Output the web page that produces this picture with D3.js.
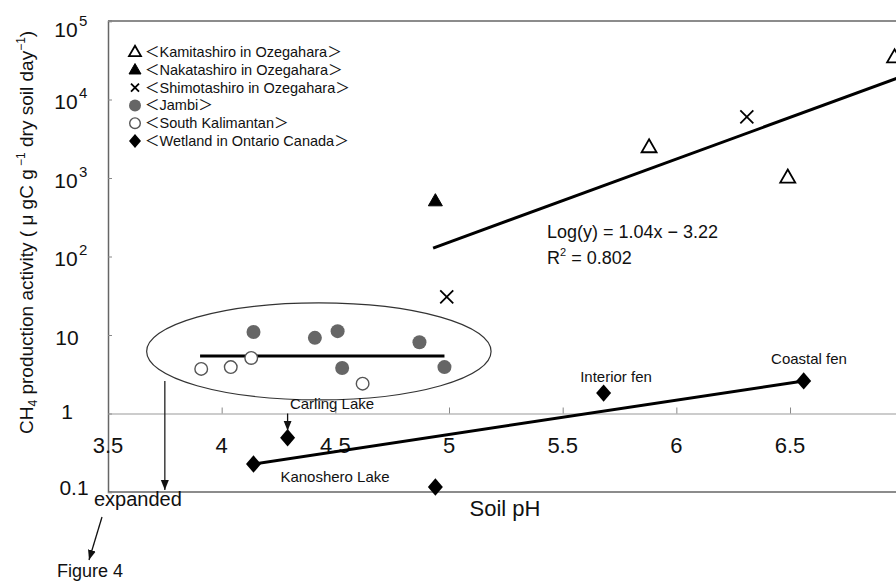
<!DOCTYPE html>
<html>
<head>
<meta charset="utf-8">
<script src="https://cdn.jsdelivr.net/npm/d3@7"></script>
<style>
  html, body { margin: 0; padding: 0; background: #fff; }
  svg { display: block; font-family: "Liberation Sans", Arial, "Noto Sans CJK JP", sans-serif; }
</style>
</head>
<body>
<svg id="chart" width="896" height="583"></svg>
<script>
// ---------------- DATA ----------------
const xTicks = [3.5, 4, 4.5, 5, 5.5, 6, 6.5];
const xTickLabels = ["3.5", "4", "4.5", "5", "5.5", "6", "6.5"];
const yTicks = [0.1, 1, 10, 100, 1000, 10000, 100000];
const yTickBase = ["0.1", "1", "10", "10", "10", "10", "10"];
const yTickExp = ["", "", "", "2", "3", "4", "5"];

// Kamitashiro in Ozegahara (open triangles)
const kamiPH = [5.88, 6.49, 6.96];
const kamiVal = [2480, 1020, 34600];
// Nakatashiro in Ozegahara (filled triangle)
const nakaPH = [4.94];
const nakaVal = [510];
// Shimotashiro in Ozegahara (crosses)
const shimoPH = [6.31, 4.99];
const shimoVal = [5990, 30.5];
// Jambi (grey filled circles)
const jambiPH = [4.14, 4.41, 4.51, 4.53, 4.87, 4.98];
const jambiVal = [10.9, 9.2, 11.2, 3.8, 8.1, 3.9];
// South Kalimantan (open circles)
const kaliPH = [3.91, 4.04, 4.13, 4.62];
const kaliVal = [3.7, 3.9, 5.1, 2.4];
// Wetland in Ontario Canada (diamonds)
const ontPH = [4.29, 4.14, 4.94, 5.68, 6.56];
const ontVal = [0.49, 0.227, 0.116, 1.82, 2.6];
const ontNames = ["Carling Lake", "", "Kanoshero Lake", "Interior fen", "Coastal fen"];

// Fitted lines (endpoints)
const ozeFitPH = [4.93, 6.97];
const ozeFitVal = [128, 18600];
const tropFitPH = [3.905, 4.98];
const tropFitVal = [5.4, 5.4];
const ontFitPH = [4.14, 6.56];
const ontFitVal = [0.227, 2.6];

// Ellipse around the tropical samples (pH range, value range)
const ellipsePH = [3.67, 5.185];
const ellipseVal = [1.49, 25.6];

const legendItems = ["＜Kamitashiro in Ozegahara＞", "＜Nakatashiro in Ozegahara＞", "＜Shimotashiro in Ozegahara＞",
                     "＜Jambi＞", "＜South Kalimantan＞", "＜Wetland in Ontario Canada＞"];
const legendTypes = ["openTri", "fillTri", "cross", "grayCircle", "openCircle", "diamond"];

const equationText = "Log(y) = 1.04x − 3.22";
const r2Text = "= 0.802";

// ---------------- CHART ----------------
const svg = d3.select("#chart");
const plotLeft = 108, plotTop = 21, plotBottom = 492;
const x = d3.scaleLinear().domain([3.5, 7]).range([108, 903.7]);
const y = d3.scaleLog().domain([0.1, 100000]).range([plotBottom, plotTop]);

const defs = svg.append("defs");
defs.append("marker").attr("id", "arrow").attr("viewBox", "0 0 10 10")
  .attr("refX", 10).attr("refY", 5).attr("markerWidth", 10).attr("markerHeight", 10)
  .attr("markerUnits", "userSpaceOnUse").attr("orient", "auto")
  .append("path").attr("d", "M0,1 L10,5 L0,9 Z").attr("fill", "#111");

// frame
const axisColor = "#666";
svg.append("line").attr("x1", plotLeft).attr("x2", 896).attr("y1", plotTop).attr("y2", plotTop)
  .attr("stroke", axisColor).attr("stroke-width", 1.5);
svg.append("line").attr("x1", plotLeft).attr("x2", 896).attr("y1", plotBottom).attr("y2", plotBottom)
  .attr("stroke", axisColor).attr("stroke-width", 1.5);

// y axis (left, inward ticks)
const yAxis = d3.axisLeft(y).tickValues(yTicks).tickSize(-4).tickFormat("");
const gy = svg.append("g").attr("transform", `translate(${plotLeft},0)`).call(yAxis);
gy.select(".domain").attr("stroke", axisColor).attr("stroke-width", 1.5);
gy.selectAll(".tick line").attr("stroke", "#888");

// x axis on the y = 1 line
const xAxis = d3.axisBottom(x).tickValues(xTicks.slice(1)).tickSize(-6).tickSizeOuter(0).tickFormat("");
const gx = svg.append("g").attr("transform", `translate(0,${y(1)})`).call(xAxis);
gx.select(".domain").attr("stroke", "#999").attr("stroke-width", 1.2);
gx.selectAll(".tick line").attr("stroke", "#888");

// x tick labels
svg.append("g").selectAll("text").data(xTicks).join("text")
  .attr("x", d => x(d)).attr("y", 453)
  .attr("text-anchor", "middle").attr("font-size", 22).attr("fill", "#111")
  .text((d, i) => xTickLabels[i]);

// y tick labels
const yLabOffsets = [3, 5, 10, 9, 10, 9, 16];
const yl = svg.append("g");
yTicks.forEach((t, i) => {
  const by = y(t) + yLabOffsets[i];
  if (yTickExp[i]) {
    yl.append("text").attr("x", 66).attr("y", by).attr("text-anchor", "middle")
      .attr("font-size", 21).attr("fill", "#111").text(yTickBase[i]);
    yl.append("text").attr("x", 79).attr("y", by - 11).attr("font-size", 15)
      .attr("fill", "#111").text(yTickExp[i]);
  } else {
    yl.append("text").attr("x", i === 0 ? 74 : 67).attr("y", by).attr("text-anchor", "middle")
      .attr("font-size", 21).attr("fill", "#111").text(yTickBase[i]);
  }
});

// y title
const yt = svg.append("text").attr("transform", "translate(33,434) rotate(-90)")
  .attr("text-anchor", "start").attr("font-size", 19).attr("fill", "#111");
yt.append("tspan").text("CH");
yt.append("tspan").attr("font-size", 12).attr("dy", 4).text("4");
yt.append("tspan").attr("dy", -4).text(" production activity ( μ gC g");
yt.append("tspan").attr("font-size", 12).attr("dy", -8).text(" −1");
yt.append("tspan").attr("dy", 8).text(" dry soil day");
yt.append("tspan").attr("font-size", 12).attr("dy", -8).text("−1");
yt.append("tspan").attr("dy", 8).text(")");

// x title
svg.append("text").attr("x", 505).attr("y", 516).attr("text-anchor", "middle")
  .attr("font-size", 22).attr("fill", "#111").text("Soil pH");

// ellipse
svg.append("ellipse")
  .attr("cx", (x(ellipsePH[0]) + x(ellipsePH[1])) / 2)
  .attr("cy", (y(ellipseVal[0]) + y(ellipseVal[1])) / 2)
  .attr("rx", (x(ellipsePH[1]) - x(ellipsePH[0])) / 2)
  .attr("ry", (y(ellipseVal[0]) - y(ellipseVal[1])) / 2)
  .attr("fill", "none").attr("stroke", "#333").attr("stroke-width", 1.2);

// arrow from ellipse to "expanded"
svg.append("line").attr("x1", x(3.75)).attr("x2", x(3.75)).attr("y1", y(2.6)).attr("y2", y(0.1) - 2)
  .attr("stroke", "#222").attr("stroke-width", 1.3).attr("marker-end", "url(#arrow)");

// fitted lines
const line = d3.line().x(d => x(d[0])).y(d => y(d[1]));
function drawFit(ph, val) {
  svg.append("path").datum(ph.map((p, i) => [p, val[i]])).attr("d", line)
    .attr("fill", "none").attr("stroke", "#000").attr("stroke-width", 3);
}
drawFit(ozeFitPH, ozeFitVal);
drawFit(tropFitPH, tropFitVal);
drawFit(ontFitPH, ontFitVal);

// symbol helpers
function sym(g, type, cx, cy, s) {
  const h = s * 0.87;
  if (type === "openTri" || type === "fillTri") {
    g.append("path").attr("d", `M${cx},${cy - h * 0.6} L${cx + s / 2},${cy + h * 0.4} L${cx - s / 2},${cy + h * 0.4} Z`)
      .attr("fill", type === "fillTri" ? "#000" : "none").attr("stroke", "#000")
      .attr("stroke-width", type === "fillTri" ? 1 : 1.8).attr("stroke-linejoin", "miter");
  } else if (type === "cross") {
    const r = s / 2;
    g.append("path").attr("d", `M${cx - r},${cy - r} L${cx + r},${cy + r} M${cx - r},${cy + r} L${cx + r},${cy - r}`)
      .attr("stroke", "#000").attr("stroke-width", 1.8);
  } else if (type === "grayCircle") {
    g.append("circle").attr("cx", cx).attr("cy", cy).attr("r", s / 2).attr("fill", "#666");
  } else if (type === "openCircle") {
    g.append("circle").attr("cx", cx).attr("cy", cy).attr("r", s / 2 - 0.7).attr("fill", "#fff")
      .attr("stroke", "#555").attr("stroke-width", 1.4);
  } else if (type === "diamond") {
    g.append("path").attr("d", `M${cx},${cy - s * 0.58} L${cx + s / 2},${cy} L${cx},${cy + s * 0.58} L${cx - s / 2},${cy} Z`)
      .attr("fill", "#000");
  }
}
const pts = svg.append("g");
function drawSeries(ph, val, type, s) {
  ph.forEach((p, i) => sym(pts, type, x(p), y(val[i]), s));
}
drawSeries(kaliPH, kaliVal, "openCircle", 14);
drawSeries(jambiPH, jambiVal, "grayCircle", 14);
drawSeries(kamiPH, kamiVal, "openTri", 15);
drawSeries(nakaPH, nakaVal, "fillTri", 14);
drawSeries(shimoPH, shimoVal, "cross", 13);
drawSeries(ontPH, ontVal, "diamond", 15);

// Ontario labels
const ontLabelPos = [[332, 409], null, [335, 482], [616, 382], [809, 364]];
ontNames.forEach((n, i) => {
  if (!n) return;
  svg.append("text").attr("x", ontLabelPos[i][0]).attr("y", ontLabelPos[i][1])
    .attr("text-anchor", "middle").attr("font-size", 15).attr("fill", "#111").text(n);
});
// Carling Lake arrow
svg.append("line").attr("x1", x(ontPH[0])).attr("x2", x(ontPH[0]))
  .attr("y1", y(1)).attr("y2", y(ontVal[0]) - 7)
  .attr("stroke", "#111").attr("stroke-width", 1.3).attr("marker-end", "url(#arrow)");

// equation
svg.append("text").attr("x", 547).attr("y", 238).attr("font-size", 18).attr("fill", "#111").text(equationText);
const r2 = svg.append("text").attr("x", 547).attr("y", 264).attr("font-size", 18).attr("fill", "#111");
r2.append("tspan").text("R");
r2.append("tspan").attr("font-size", 11).attr("dy", -8).text("2");
r2.append("tspan").attr("dy", 8).text(" " + r2Text);

// legend
const lg = svg.append("g");
legendItems.forEach((t, i) => {
  const cy = 52 + i * 17.8;
  sym(lg, legendTypes[i], 135, cy, legendTypes[i] === "cross" ? 8 : 12);
  lg.append("text").attr("x", 145).attr("y", cy + 5).attr("font-size", 14.5).attr("fill", "#111").text(t);
});

// "expanded" and "Figure 4"
svg.append("text").attr("x", 94).attr("y", 506).attr("font-size", 20).attr("fill", "#111").text("expanded");
svg.append("line").attr("x1", 102).attr("y1", 517).attr("x2", 89).attr("y2", 560)
  .attr("stroke", "#111").attr("stroke-width", 1.3).attr("marker-end", "url(#arrow)");
svg.append("text").attr("x", 57).attr("y", 577).attr("font-size", 18).attr("fill", "#111").text("Figure 4");
</script>
</body>
</html>
